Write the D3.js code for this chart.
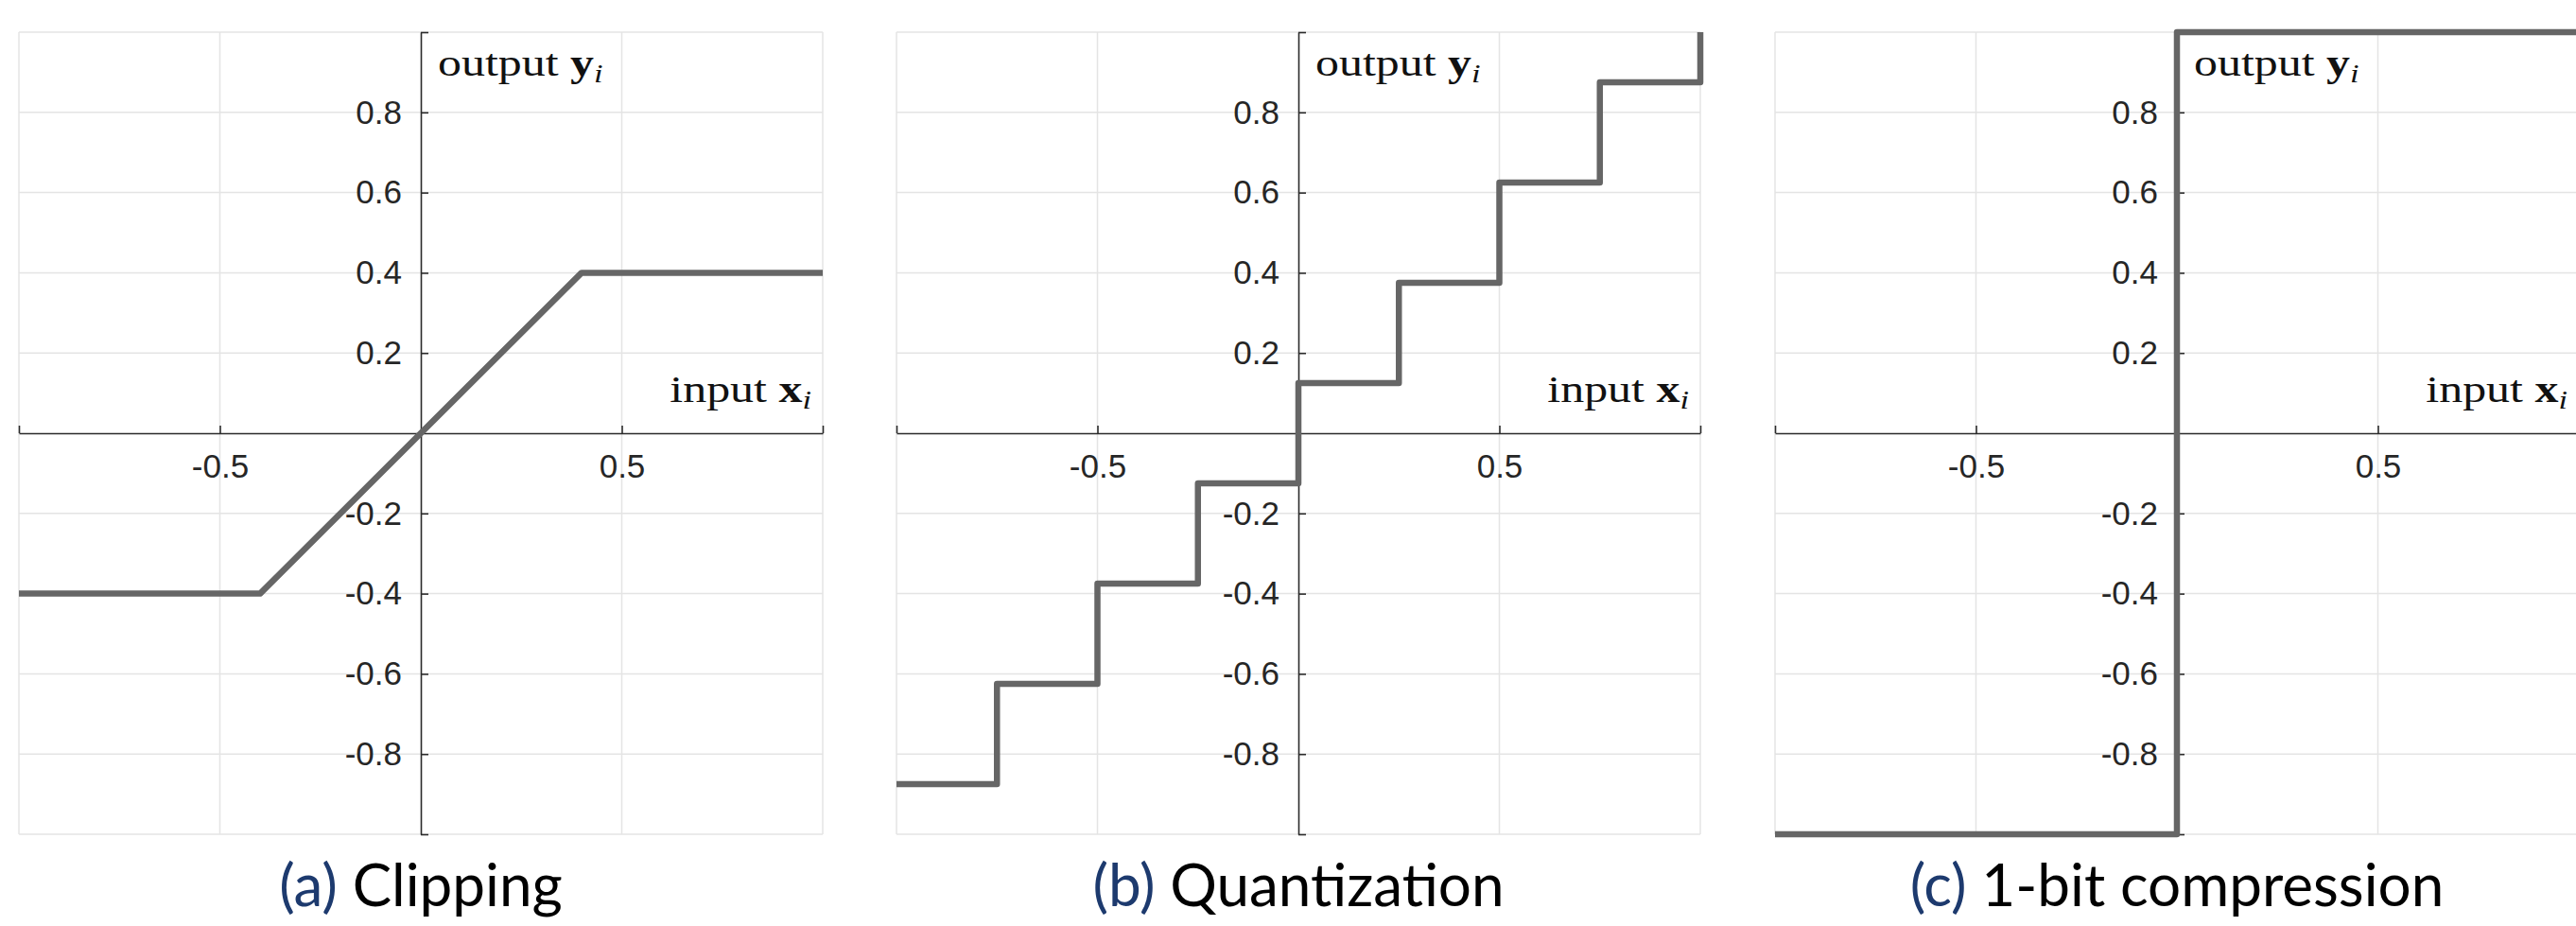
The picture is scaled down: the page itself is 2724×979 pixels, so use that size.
<!DOCTYPE html>
<html>
<head>
<meta charset="utf-8">
<script src="https://cdn.jsdelivr.net/npm/d3@7"></script>
<style>
    html, body { margin: 0; padding: 0; background: #fff; overflow: hidden; }
</style>
</head>
<body>
<div id="chart"></div>
<script>
//---------------------------------//
// Data                            //
//---------------------------------//

var xTicks = [-1, -0.5, 0.5, 1];
var xTickLabels = ['', '-0.5', '0.5', ''];
var yTicks = [-1, -0.8, -0.6, -0.4, -0.2, 0.2, 0.4, 0.6, 0.8, 1];
var yTickLabels = ['', '-0.8', '-0.6', '-0.4', '-0.2', '0.2', '0.4', '0.6', '0.8', ''];

var clipX = [-1, -0.4, 0.4, 1];                          //(a) clipping at +-0.4
var clipY = [-0.4, -0.4, 0.4, 0.4];

var quantX = [-1, -0.75, -0.5, -0.25, 0, 0.25, 0.5, 0.75, 1];   //(b) step starts
var quantY = [-0.875, -0.625, -0.375, -0.125, 0.125, 0.375, 0.625, 0.875, 1];

var signX = [-1, 0, 1];                                  //(c) sign function
var signY = [-1, 1, 1];

var panelTags = ['(a)', '(b)', '(c)'];
var panelNames = ['Clipping', 'Quantization', '1-bit compression'];

//---------------------------------//
// Chart                           //
//---------------------------------//

window.Fig = window.Fig || {};

Fig.init = function() {
    Fig.width = 2724;
    Fig.height = 979;

    Fig.left = [20, 948, 1877];         //left edge of each plot box
    Fig.size = 850;                     //plot box width
    Fig.top = 34;
    Fig.bottom = 882;

    Fig.lineColor = '#666666';
    Fig.gridColor = '#e4e4e4';
    Fig.axisColor = '#2b2b2b';

    Fig.svg = d3.select('#chart').append('svg')
        .attr('width', Fig.width)
        .attr('height', Fig.height);

    var series = [
        { x: clipX, y: clipY, curve: d3.curveLinear },
        { x: quantX, y: quantY, curve: d3.curveStepAfter },
        { x: signX, y: signY, curve: d3.curveStepAfter }
    ];

    for (var i = 0; i < 3; i++) {
        Fig.drawPanel(i, series[i]);
    }
};

Fig.drawPanel = function(i, s) {
    var x = d3.scaleLinear().domain([-1, 1]).range([Fig.left[i], Fig.left[i] + Fig.size]);
    var y = d3.scaleLinear().domain([-1, 1]).range([Fig.bottom, Fig.top]);
    var g = Fig.svg.append('g');

    // grid
    g.append('g').selectAll('line').data(xTicks).join('line')
        .attr('x1', d => x(d)).attr('x2', d => x(d))
        .attr('y1', y(-1)).attr('y2', y(1))
        .attr('stroke', Fig.gridColor).attr('stroke-width', 1.5);
    g.append('g').selectAll('line').data(yTicks).join('line')
        .attr('y1', d => y(d)).attr('y2', d => y(d))
        .attr('x1', x(-1)).attr('x2', x(1))
        .attr('stroke', Fig.gridColor).attr('stroke-width', 1.5);

    // axes through the origin, ticks pointing inwards
    var xAxis = d3.axisBottom(x).tickValues(xTicks)
        .tickSizeInner(-8).tickSizeOuter(0).tickPadding(22)
        .tickFormat((d, k) => xTickLabels[k]);
    var yAxis = d3.axisLeft(y).tickValues(yTicks)
        .tickSizeInner(-8).tickSizeOuter(0).tickPadding(20)
        .tickFormat((d, k) => yTickLabels[k]);

    var gx = g.append('g').attr('transform', 'translate(0,' + y(0) + ')').call(xAxis);
    var gy = g.append('g').attr('transform', 'translate(' + x(0) + ',0)').call(yAxis);

    [gx, gy].forEach(function(a) {
        a.select('.domain').attr('stroke', Fig.axisColor).attr('stroke-width', 1.6);
        a.selectAll('.tick line').attr('stroke', Fig.axisColor).attr('stroke-width', 1.6);
        a.selectAll('.tick text')
            .attr('fill', '#262626')
            .style('font-family', '"Liberation Sans", Arial, sans-serif')
            .style('font-size', '35px');
    });

    // axis names in LaTeX style
    var yName = g.append('g')
        .attr('transform', 'translate(' + (x(0) + 18) + ',80) scale(1.28,1)')
        .append('text')
        .style('font-family', '"Liberation Serif", serif')
        .style('font-size', '39px')
        .attr('fill', '#111');
    yName.append('tspan').text('output ');
    yName.append('tspan').style('font-weight', 'bold').text('y');
    yName.append('tspan').style('font-style', 'italic').style('font-size', '27px')
        .attr('dy', 7).text('i');

    var xName = g.append('g')
        .attr('transform', 'translate(' + (x(1) - 12) + ',425) scale(1.28,1)')
        .append('text')
        .attr('text-anchor', 'end')
        .style('font-family', '"Liberation Serif", serif')
        .style('font-size', '39px')
        .attr('fill', '#111');
    xName.append('tspan').text('input ');
    xName.append('tspan').style('font-weight', 'bold').text('x');
    xName.append('tspan').style('font-style', 'italic').style('font-size', '27px')
        .attr('dy', 7).text('i');

    // the transfer curve
    var pts = s.x.map((d, k) => [d, s.y[k]]);
    var line = d3.line().x(d => x(d[0])).y(d => y(d[1])).curve(s.curve);
    g.append('path')
        .attr('d', line(pts))
        .attr('fill', 'none')
        .attr('stroke', Fig.lineColor)
        .attr('stroke-width', 6.5)
        .attr('stroke-linejoin', 'round');

    // caption
    var cap = g.append('text')
        .attr('x', x(0))
        .attr('y', 958)
        .attr('text-anchor', 'middle')
        .style('font-family', 'Lato, "Noto Sans", sans-serif')
        .style('font-size', '62px');
    cap.append('tspan').attr('fill', '#1d3a6e').text(panelTags[i]);
    cap.append('tspan').attr('fill', '#000').text(' ' + panelNames[i]);
};

document.addEventListener('DOMContentLoaded', Fig.init);
</script>
</body>
</html>
